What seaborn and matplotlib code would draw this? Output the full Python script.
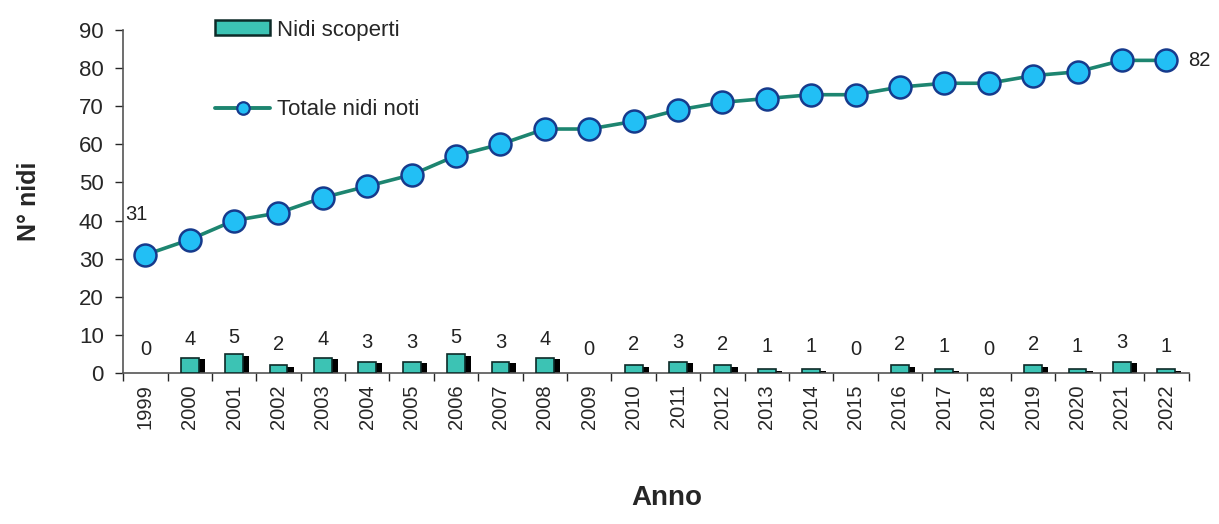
import matplotlib
matplotlib.use("Agg")
import matplotlib.pyplot as plt
import seaborn as sns
import pandas as pd
from matplotlib.patches import Rectangle
from matplotlib.lines import Line2D

# --- dati ---
anni = [str(a) for a in range(1999, 2023)]
nidi_scoperti = [0, 4, 5, 2, 4, 3, 3, 5, 3, 4, 0, 2, 3, 2, 1, 1, 0, 2, 1, 0, 2, 1, 3, 1]
totale_nidi = [31, 35, 40, 42, 46, 49, 52, 57, 60, 64, 64, 66, 69, 71, 72, 73, 73, 75, 76, 76, 78, 79, 82, 82]

df = pd.DataFrame({'anno': anni, 'scoperti': nidi_scoperti, 'totale': totale_nidi})

sns.set_style('white')
plt.rcParams['font.family'] = ['Liberation Sans', 'DejaVu Sans']

fig = plt.figure(figsize=(12.19, 5.24), dpi=100)
ax = fig.add_axes([0.101, 0.288, 0.874, 0.655])

bar_col = '#3cc3b4'
edge_col = '#0d2a28'
sns.barplot(data=df, x='anno', y='scoperti', color=bar_col, width=0.4,
            edgecolor=edge_col, linewidth=1.2, saturation=1, ax=ax, zorder=3)

# ombra nera dietro le barre (effetto 3D)
for p in list(ax.patches):
    h = p.get_height()
    if h <= 0:
        p.set_linewidth(0)
        continue
    sh = Rectangle((p.get_x() + 0.14, 0), p.get_width(), h - 0.4,
                   facecolor='black', edgecolor='none', zorder=2)
    ax.add_patch(sh)

# linea totale nidi
x = range(len(anni))
ax.plot(x, totale_nidi, color='#1d8570', lw=2.6, zorder=4)
ax.scatter(x, totale_nidi, s=250, facecolor='#22bff5',
           edgecolor='#163a8c', linewidth=1.8, zorder=5)

# etichette valori
for i, v in enumerate(nidi_scoperti):
    ax.text(i, v * 0.6 + 6.3, str(v), ha='center', va='center', fontsize=14.5, color='#222222')
ax.text(-0.2, totale_nidi[0] + 10.5, str(totale_nidi[0]), ha='center', va='center',
        fontsize=14.5, color='#222222')
ax.text(len(anni) - 1 + 0.5, totale_nidi[-1], str(totale_nidi[-1]), ha='left',
        va='center', fontsize=14.5, color='#222222', clip_on=False)

ax.set_xlim(-0.5, len(anni) - 0.5)
ax.set_ylim(0, 90)
ax.set_yticks(range(0, 91, 10))
ax.tick_params(axis='y', labelsize=16, length=6, width=1, direction='out', left=True, pad=8)
ax.tick_params(axis='x', which='major', labelsize=14.5, length=0, rotation=90, pad=8)
ax.set_xticks([i + 0.5 for i in range(-1, len(anni))], minor=True)
ax.tick_params(axis='x', which='minor', length=6, width=1, direction='out', bottom=True)

for s in ['top', 'right']:
    ax.spines[s].set_visible(False)
for s in ['left', 'bottom']:
    ax.spines[s].set_color('#555555')
    ax.spines[s].set_linewidth(1.2)

ax.set_xlabel('Anno', fontsize=20, fontweight='bold')
ax.xaxis.set_label_coords(0.51, -0.325)
ax.set_ylabel('N° nidi', fontsize=18, fontweight='bold', labelpad=27)

handles = [Rectangle((0, 0), 1, 1, facecolor=bar_col, edgecolor=edge_col, linewidth=1.8),
           Line2D([0], [0], color='#1d8570', lw=2.8, marker='o', markersize=9,
                  markerfacecolor='#22bff5', markeredgecolor='#163a8c', markeredgewidth=1.6)]
ax.legend(handles, ['Nidi scoperti', 'Totale nidi noti'], loc='upper left',
          bbox_to_anchor=(0.086, 1.03), frameon=False, fontsize=16,
          borderaxespad=0, borderpad=0,
          handlelength=2.5, handleheight=0.68, handletextpad=0.3, labelspacing=2.65)

fig.savefig('out.png', dpi=100)
